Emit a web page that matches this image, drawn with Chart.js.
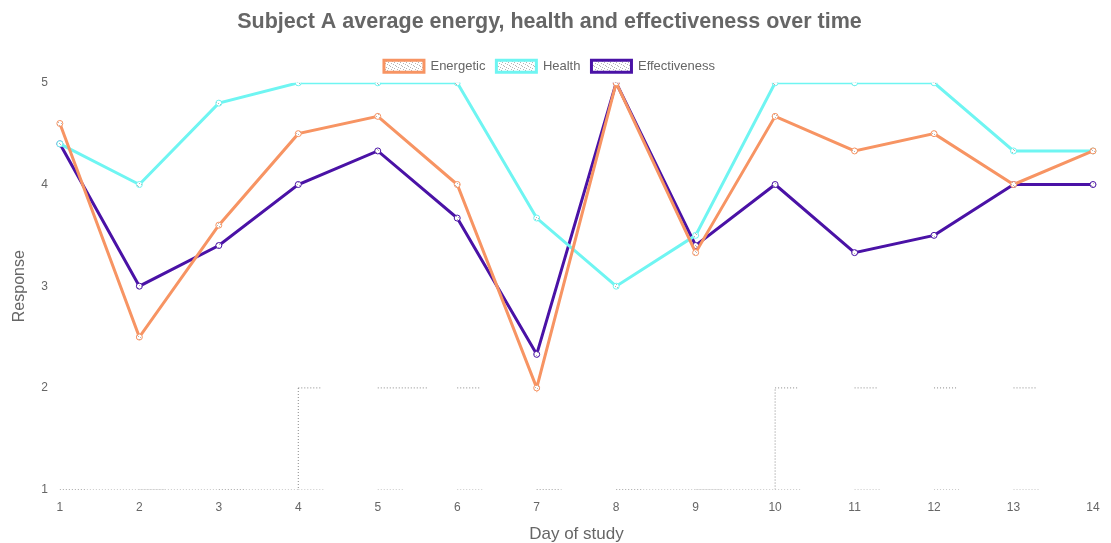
<!DOCTYPE html>
<html>
<head>
<meta charset="utf-8">
<script src="https://cdn.jsdelivr.net/npm/chart.js@4"></script>
<style>
  html, body { margin: 0; padding: 0; background: #fff; }
  #wrap { width: 1111px; height: 543px; position: relative; }
</style>
</head>
<body>
<div id="wrap"><canvas id="chart"></canvas></div>
<script>
// Day labels and average responses per day
const days = ['1','2','3','4','5','6','7','8','9','10','11','12','13','14'];
const energetic     = [4.6, 2.5, 3.6, 4.5, 4.67, 4.0, 2.0, 5.0, 3.33, 4.67, 4.33, 4.5, 4.0, 4.33];
const health        = [4.4, 4.0, 4.8, 5.0, 5.0, 5.0, 3.67, 3.0, 3.5, 5.0, 5.0, 5.0, 4.33, 4.33];
const effectiveness = [4.4, 3.0, 3.4, 4.0, 4.33, 3.67, 2.33, 5.0, 3.4, 4.0, 3.33, 3.5, 4.0, 4.0];
// Faint dotted guide traces along the lower part of the scale
const guideSteps = [1, 1, 1, 2, 2, 2, 1, 1, 1, 2, 2, 2, 2, 2];
const guideFloor = [1, 1, 1, 1, 1, 1, 1, 1, 1, 1, 1, 1, 1, 1];
const yTicks = [1, 2, 3, 4, 5];

// Small dotted swatch used as the fill for legend boxes and points
function makePattern() {
  const c = document.createElement('canvas');
  c.width = 6; c.height = 6;
  const g = c.getContext('2d');
  g.fillStyle = '#ffffff';
  g.fillRect(0, 0, 6, 6);
  g.fillStyle = 'rgba(120,120,120,0.55)';
  g.fillRect(0, 0, 1, 1);
  g.fillRect(2, 1, 1, 1);
  g.fillRect(4, 2, 1, 1);
  g.fillRect(3, 4, 1, 1);
  g.fillRect(1, 3, 1, 1);
  g.fillRect(5, 5, 1, 1);
  return g.createPattern(c, 'repeat');
}
const swatch = makePattern();

const dotted = [1, 2];
// short dotted run at the start of a segment; the gap differs per segment so
// each segment is stroked on its own and its dash restarts at the segment start
const fragment = (i, dots) => {
  const d = [];
  for (let k = 0; k < dots; k++) d.push(1, 2);
  d.push(1, 3000 + i);
  return d;
};
const stepContinuous = new Set([0, 1, 2, 7, 8]);

Chart.defaults.font.family = '"Liberation Sans", Arial, sans-serif';
Chart.defaults.color = '#666';

const lineStyle = (color) => ({
  borderColor: color,
  backgroundColor: swatch,
  pointBorderColor: color,
  pointBackgroundColor: swatch,
  borderWidth: 3,
  pointRadius: 3,
  pointBorderWidth: 1,
  pointHoverRadius: 4,
  tension: 0,
  fill: false
});

new Chart(document.getElementById('chart'), {
  type: 'line',
  data: {
    labels: days,
    datasets: [
      Object.assign({ label: 'Energetic', data: energetic }, lineStyle('#f79463')),
      Object.assign({ label: 'Health', data: health }, lineStyle('#6ff5f2')),
      Object.assign({ label: 'Effectiveness', data: effectiveness }, lineStyle('#4a12a6')),
      {
        label: '_steps', data: guideSteps, stepped: 'before',
        borderColor: '#8a8a8a', borderWidth: 1, pointRadius: 0, fill: false,
        segment: { borderDash: c => stepContinuous.has(c.p0DataIndex) ? dotted : fragment(c.p0DataIndex, c.p0DataIndex === 4 ? 16 : 7) }
      },
      {
        label: '_floor', data: guideFloor,
        borderColor: '#8a8a8a', borderWidth: 1, pointRadius: 0, fill: false,
        segment: { borderDash: c => fragment(c.p0DataIndex + 50, 8) }
      }
    ]
  },
  options: {
    responsive: true,
    maintainAspectRatio: false,
    animation: false,
    layout: { padding: { left: 6, right: 18, top: 3, bottom: 0 } },
    plugins: {
      title: {
        display: true,
        text: 'Subject A average energy, health and effectiveness over time',
        font: { size: 21.5, weight: 'bold' },
        color: '#666',
        padding: { top: 6, bottom: 14 }
      },
      legend: {
        labels: {
          filter: item => !item.text.startsWith('_'),
          boxWidth: 40,
          boxHeight: 12,
          font: { size: 13 },
          color: '#666',
          padding: 11
        }
      },
      tooltip: { enabled: false }
    },
    scales: {
      x: {
        grid: { display: false, drawTicks: false },
        border: { display: false },
        ticks: { font: { size: 12 }, color: '#666', padding: 11 },
        title: { display: true, text: 'Day of study', font: { size: 17, lineHeight: 1 }, color: '#666', padding: { top: 0, bottom: 0 } }
      },
      y: {
        min: 1, max: 5,
        afterBuildTicks: s => { s.ticks = yTicks.map(v => ({ value: v })); },
        grid: { display: false, drawTicks: false },
        border: { display: false },
        ticks: { font: { size: 12 }, color: '#666', padding: 12 },
        title: { display: true, text: 'Response', font: { size: 16 }, color: '#666', padding: { top: 4, bottom: 0 } }
      }
    }
  }
});
</script>
</body>
</html>
